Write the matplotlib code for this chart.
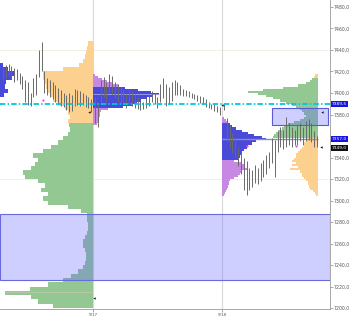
import matplotlib
matplotlib.use('Agg')
import matplotlib.pyplot as plt
import matplotlib.transforms as mtransforms
import numpy as np

# ---------------- data ----------------
price_ticks = list(range(7200, 7481, 20))
hidden_tick_labels = [7360]         # covered by the 7357,0 flag in the reference
date_labels = ['9/17', '9/18']
session_starts = [93, 222]          # time slot where each dated session starts
session_end = 318                   # last slot of 9/18 session

# OHLC bar highs / lows per session
highs_B = [7424, 7426, 7427, 7425, 7423, 7422, 7419, 7416, 7412, 7410, 7400, 7414, 7418, 7440, 7447,
           7420, 7414, 7412, 7410, 7407, 7405, 7403, 7400, 7398, 7400, 7398, 7404, 7403, 7402, 7400,
           7398, 7396, 7394]
lows_B = [7412, 7414, 7416, 7413, 7410, 7412, 7408, 7404, 7392, 7389, 7388, 7396, 7398, 7415, 7420,
          7400, 7398, 7396, 7394, 7392, 7390, 7388, 7387, 7384, 7382, 7383, 7388, 7389, 7388, 7389,
          7387, 7386, 7382]
highs_C = [7396, 7392, 7412, 7415, 7410, 7418, 7416, 7410, 7408, 7405, 7403, 7400, 7404, 7402, 7399,
           7396, 7393, 7392, 7395, 7398, 7402, 7400, 7396, 7408, 7414, 7408, 7406, 7410, 7412, 7410,
           7407, 7404, 7403, 7402, 7400, 7399, 7398, 7397, 7396, 7394, 7392, 7390, 7390, 7388, 7387]
lows_C = [7372, 7368, 7390, 7396, 7392, 7400, 7398, 7395, 7392, 7390, 7389, 7386, 7390, 7388, 7386,
          7385, 7384, 7385, 7386, 7388, 7392, 7390, 7386, 7392, 7395, 7388, 7390, 7393, 7398, 7398,
          7398, 7397, 7397, 7396, 7395, 7394, 7393, 7391, 7390, 7387, 7386, 7385, 7383, 7382, 7380]
highs_D = [7390, 7377, 7370, 7363, 7358, 7350, 7345, 7340, 7337, 7330, 7328, 7333, 7330, 7335, 7338,
           7342, 7345, 7358, 7356, 7365, 7368, 7366, 7378, 7372, 7368, 7366, 7370, 7372, 7368, 7374,
           7376, 7372, 7365, 7360]
lows_D = [7384, 7355, 7350, 7344, 7340, 7332, 7325, 7310, 7305, 7310, 7313, 7316, 7315, 7318, 7322,
          7325, 7330, 7335, 7322, 7345, 7350, 7348, 7350, 7352, 7350, 7352, 7352, 7355, 7352, 7355,
          7356, 7354, 7350, 7350]

# market profiles: top price, bin size, widths (TPO length), value area
prof_A_top, prof_A_step = 7428, 4
prof_A = [3, 8, 14, 12, 6, 5, 8, 4]
prof_B_top, prof_B_step = 7448, 4
prof_B = [5, 6, 7, 8, 10, 14, 30, 50, 50, 48, 47, 45, 42, 40, 35, 28, 25, 23, 25, 24,
          23, 25, 30, 35, 42, 50, 60, 55, 58, 62, 70, 68, 55, 48, 52, 45, 50, 45, 25, 12,
          6, 6, 5, 5, 6, 8, 10, 10, 8, 7, 7, 8, 10, 15, 22, 30, 45, 63, 88, 62, 55, 40]
prof_B_va = (7196, 7370)
prof_C_top, prof_C_step = 7418, 2
prof_C = [2, 5, 9, 14, 19, 25, 32, 45, 58, 66, 60, 54, 48, 44, 40, 30, 15, 8, 7, 7, 6, 6, 5, 4]
prof_C_va = (7386, 7406)
prof_D_top, prof_D_step = 7378, 2
prof_D = [2, 4, 6, 8, 10, 14, 20, 26, 32, 40, 44, 34, 30, 26, 25, 22, 20, 19, 18, 16,
          12, 20, 23, 22, 25, 20, 18, 16, 12, 8, 7, 7, 6, 5, 4, 3, 2]
prof_D_va = (7338, 7372)
prof_E_top, prof_E_step = 7418, 2
prof_E = [3, 4, 6, 8, 12, 20, 35, 55, 70, 60, 52, 45, 38, 32, 26, 22, 18, 16, 14, 12,
          14, 18, 24, 30, 34, 36, 40, 42, 44, 45,
          12, 12, 14, 14, 16, 18, 20, 22, 22, 24, 26, 22, 26, 20, 28, 18, 16, 16, 14, 12,
          10, 10, 9, 8, 5, 3, 2]
prof_E_va = (7358, 7414)

# levels
cyan_level = 7389.5
poc_C = 7399
poc_D = 7357
poc_B = 7215
zone_big = (7226, 7287)
zone_small = (7370, 7385.7)
zone_small_x = (272, 328)
price_flags = [(7389.5, '7389,5', '#1616e0'), (7357.0, '7357,0', '#1616e0'), (7349.0, '7349,0', '#111111')]
magenta_pts_t = [43, 247, 296]
magenta_pts_p = [7393.5, 7351, 7351]
black_pts_t = [89, 222, 322, 94, 321]
black_pts_p = [7382, 7389, 7382, 7209, 7350]

# ---------------- style ----------------
C_OR = '#fcd08e'
C_GR = '#93c893'
C_BL = '#4a4ad8'
C_PU = '#c688e2'
C_BAR = '#6a6a6a'

fig = plt.figure(figsize=(3.5, 3.18), dpi=100)
ax = fig.add_axes([0, 9 / 318, 330 / 350, 309 / 318])
ax.set_xlim(0, 330)
ax.set_ylim(7199.1, 7486.5)

# grid
for g in [7440, 7320]:
    ax.axhline(g, color='#f1ede2', lw=0.6, zorder=0)
for s in session_starts:
    ax.axvline(s, color='#d9d9d9', lw=0.8, zorder=0)


def draw_profile(top, step, widths, anchor, direction, va, in_c, out_c):
    w = np.array(widths, dtype=float)
    hi = top - step * np.arange(len(w))
    centers = hi - step / 2
    cols = [in_c if va[0] <= c <= va[1] else out_c for c in centers]
    left = anchor if direction > 0 else anchor - w
    ax.barh(centers, w, height=step, left=left, color=cols, lw=0, zorder=1)


draw_profile(prof_A_top, prof_A_step, prof_A, 0, 1, (0, 1e9), C_BL, C_BL)
draw_profile(prof_B_top, prof_B_step, prof_B, session_starts[0], -1, prof_B_va, C_GR, C_OR)
draw_profile(prof_C_top, prof_C_step, prof_C, session_starts[0], 1, prof_C_va, C_BL, C_PU)
draw_profile(prof_D_top, prof_D_step, prof_D, session_starts[1], 1, prof_D_va, C_BL, C_PU)
draw_profile(prof_E_top, prof_E_step, prof_E, session_end, -1, prof_E_va, C_GR, C_OR)

# POC lines
ax.hlines(poc_C, session_starts[0], session_starts[0] + max(prof_C), color='#a4a4ee', lw=0.6, zorder=1.5)
ax.hlines(poc_B, session_starts[0] - max(prof_B), session_starts[0], color='#d8c4b8', lw=0.4, zorder=1.5)
ax.hlines(poc_D, session_starts[1], session_end, color='#8c8cc4', lw=1.0, zorder=1.5)

# zones
ax.axhspan(zone_big[0], zone_big[1], facecolor=(0.38, 0.38, 1.0, 0.3), edgecolor='#6a6ae0', lw=0.8, zorder=2)
ax.add_patch(plt.Rectangle((zone_small_x[0], zone_small[0]), zone_small_x[1] - zone_small_x[0],
                           zone_small[1] - zone_small[0], facecolor=(0.38, 0.38, 1.0, 0.3),
                           edgecolor='#5a5ad8', lw=0.8, zorder=2))

# bars
def draw_bars(start, spacing, highs, lows):
    x = start + spacing * np.arange(len(highs))
    ax.vlines(x, lows, highs, color=C_BAR, lw=0.7, zorder=3)

draw_bars(3, 2.75, highs_B, lows_B)
draw_bars(95, 2.84, highs_C, lows_C)
draw_bars(224, 2.82, highs_D, lows_D)

# cyan level
ax.axhline(cyan_level, color='#00c8dc', lw=1.3, ls=(0, (3, 1.2, 0.8, 1.2)), zorder=4)

# markers
ax.scatter(magenta_pts_t, magenta_pts_p, s=2.5, color='#ff3cff', zorder=5, lw=0)
ax.scatter(black_pts_t, black_pts_p, s=3, color='#111111', marker='<', zorder=5, lw=0)

# axes styling
for sp in ['left', 'top']:
    ax.spines[sp].set_visible(False)
for sp in ['right', 'bottom']:
    ax.spines[sp].set_color('#9a9a9a')
    ax.spines[sp].set_linewidth(0.6)
ax.yaxis.tick_right()
ax.set_yticks(price_ticks)
ax.set_yticklabels(['' if v in hidden_tick_labels else f"{v:.1f}".replace('.', ',') for v in price_ticks])
ax.set_xticks(session_starts)
ax.set_xticklabels(date_labels)
ax.tick_params(axis='y', length=2, width=0.5, color='#888888', labelsize=3.3, labelcolor='#555555', pad=0.8)
ax.tick_params(axis='x', length=2, width=0.5, color='#888888', labelsize=3.0, labelcolor='#555555', pad=0.6)

trans = mtransforms.blended_transform_factory(ax.transAxes, ax.transData)
for p, txt, col in price_flags:
    ax.text(1.006, p, txt, transform=trans, ha='left', va='center', fontsize=3.2, color='white',
            bbox=dict(boxstyle='square,pad=0.25', fc=col, ec='none'), zorder=10, clip_on=False)

fig.savefig('out.png', dpi=100)
